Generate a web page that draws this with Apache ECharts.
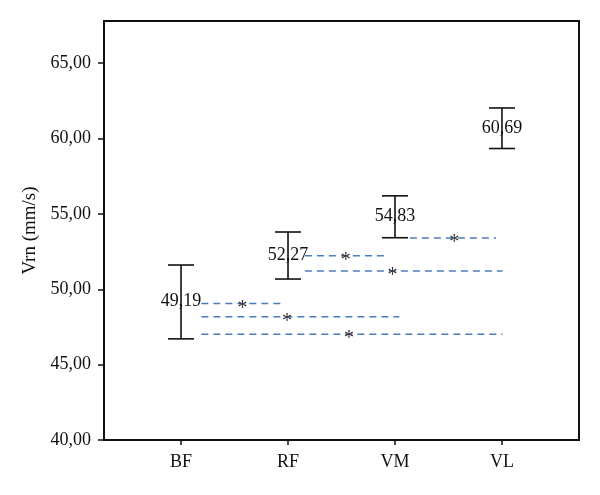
<!DOCTYPE html>
<html>
<head>
<meta charset="utf-8">
<script src="https://cdn.jsdelivr.net/npm/echarts@6/dist/echarts.min.js"></script>
<style>
html,body{margin:0;padding:0;background:#fff;}
#main{width:600px;height:495px;}
</style>
</head>
<body>
<div id="main"></div>
<script>
// groups on the x axis
var categories = ['BF', 'RF', 'VM', 'VL'];
var means = [49.19, 52.27, 54.83, 60.69];
var lower = [46.71, 50.68, 53.42, 59.34];
var upper = [51.61, 53.80, 56.20, 62.03];
var yTicks = [40, 45, 50, 55, 60, 65];

// pairwise comparisons: level (mm/s), start, end and star position in category units
var compLevel = [49.05, 48.17, 47.02, 52.23, 51.21, 53.40];
var compStart = [0.19, 0.19, 0.19, 1.158, 1.158, 2.14];
var compEnd   = [0.97, 2.04, 3.005, 1.923, 3.005, 2.944];
var compStar  = [0.575, 0.99, 1.57, 1.54, 1.976, 2.553];

var serif = '"Liberation Serif", "DejaVu Serif", serif';

var barData = [];
for (var i = 0; i < categories.length; i++) {
	barData.push([i, lower[i], upper[i], means[i]]);
}
var compData = [];
for (var j = 0; j < compLevel.length; j++) {
	compData.push([compStart[j], compEnd[j], compLevel[j], compStar[j]]);
}

function fmt(v) {
	return v.toFixed(2).replace('.', ',');
}

var myChart = echarts.init(document.getElementById('main'));
var option = {
	animation: false,
	grid: {
		left: 104, right: 21, top: 21, bottom: 55,
		show: true, borderColor: '#111', borderWidth: 2
	},
	xAxis: {
		type: 'value',
		min: -0.72,
		max: 3.72,
		splitLine: {show: false},
		axisLine: {onZero: false, lineStyle: {color: '#111', width: 2}},
		axisTick: {show: true, length: 5, customValues: [0, 1, 2, 3], lineStyle: {color: '#111', width: 1.5}},
		axisLabel: {
			customValues: [0, 1, 2, 3],
			margin: 13,
			color: '#111',
			fontFamily: serif,
			fontSize: 18,
			formatter: function (v) { return categories[Math.round(v)]; }
		}
	},
	yAxis: {
		type: 'value',
		min: 40,
		max: 67.8,
		name: 'Vrn (mm/s)',
		nameLocation: 'middle',
		nameGap: 63,
		nameTextStyle: {color: '#111', fontFamily: serif, fontSize: 19},
		splitLine: {show: false},
		axisLine: {show: true, onZero: false, lineStyle: {color: '#111', width: 2}},
		axisTick: {show: true, length: 6, customValues: yTicks, lineStyle: {color: '#111', width: 1.5}},
		axisLabel: {
			customValues: yTicks,
			margin: 13,
			color: '#111',
			fontFamily: serif,
			fontSize: 18,
			formatter: function (v) { return fmt(v); }
		}
	},
	series: [
		{
			type: 'custom',
			data: compData,
			renderItem: function (params, api) {
				var p0 = api.coord([api.value(0), api.value(2)]);
				var p1 = api.coord([api.value(1), api.value(2)]);
				var ps = api.coord([api.value(3), api.value(2)]);
				return {
					type: 'group',
					children: [
						{
							type: 'line',
							shape: {x1: p0[0], y1: p0[1], x2: p1[0], y2: p1[1]},
							style: {stroke: '#4a7dbf', lineWidth: 1.5, lineDash: [7, 5]}
						},
						{
							type: 'text',
							x: ps[0], y: ps[1] + 5,
							style: {
								text: '*', fill: '#333', align: 'center', verticalAlign: 'middle',
								font: '20px ' + serif
							}
						}
					]
				};
			}
		},
		{
			type: 'custom',
			data: barData,
			renderItem: function (params, api) {
				var lo = api.coord([api.value(0), api.value(1)]);
				var hi = api.coord([api.value(0), api.value(2)]);
				var mid = api.coord([api.value(0), api.value(3)]);
				var w = 13;
				var st = {stroke: '#111', lineWidth: 1.6};
				return {
					type: 'group',
					children: [
						{type: 'line', shape: {x1: lo[0], y1: lo[1], x2: hi[0], y2: hi[1]}, style: st},
						{type: 'line', shape: {x1: lo[0] - w, y1: lo[1], x2: lo[0] + w, y2: lo[1]}, style: st},
						{type: 'line', shape: {x1: hi[0] - w, y1: hi[1], x2: hi[0] + w, y2: hi[1]}, style: st},
						{
							type: 'text',
							x: mid[0], y: mid[1],
							style: {
								text: fmt(api.value(3)), fill: '#111', align: 'center', verticalAlign: 'middle',
								font: '18px ' + serif
							}
						}
					]
				};
			}
		}
	]
};
myChart.setOption(option);
</script>
</body>
</html>
